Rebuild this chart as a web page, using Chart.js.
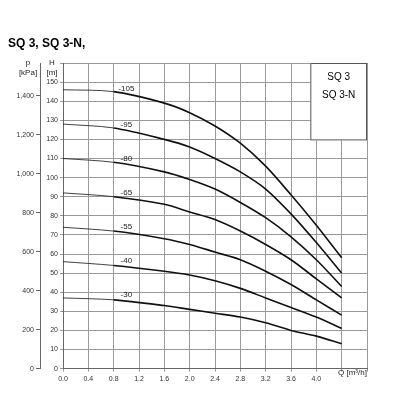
<!DOCTYPE html><html><head><script src="https://cdn.jsdelivr.net/npm/chart.js"></script>
<style>body{margin:0;background:#fff}#w{width:416px;height:416px}</style></head><body><div id="w"><canvas id="c"></canvas></div>
<script>
const flows=[0,0.8,1.6,2.0,2.4,2.8,3.2,3.6,4.0,4.4];
const curveLabels=['-105','-95','-80','-65','-55','-40','-30'];
const h105=[146,145,139,134,127,118,106,91,75,58];
const h95=[128,126,120,116,110,103,94,81,66,50];
const h80=[110,108,103,99,94,87,79,69,57,43];
const h65=[92,90,86,82,78,72,65,57,47,37];
const h55=[74,72,68,65,61,57,51,44,36,28];
const h40=[56,54,51,49,46,42,37,32,27,21];
const h30=[37,36,33,31,29,27,24,20,17,13];
const series=[h105,h95,h80,h65,h55,h40,h30];
const labelQ=1.0;
const ds=series.map(s=>({data:flows.map((q,i)=>({x:q,y:s[i]})),borderColor:'#111',pointRadius:0,fill:false,tension:0.3,
 segment:{borderWidth:c=>c.p0.parsed.x<0.8?0.8:1.6}}));
const deco={id:'deco',afterDraw(ch){const c=ch.ctx,x=ch.scales.x,y=ch.scales.y,a=ch.chartArea;c.save();
 c.fillStyle='#000';c.font='bold 12px Arial, Liberation Sans';c.textBaseline='middle';c.fillText('SQ 3, SQ 3-N,',8,44);
 c.font='8px Arial, Liberation Sans';c.fillStyle='#222';c.textAlign='center';
 series.forEach((s,i)=>{let v=s[1]+(s[2]-s[1])*(labelQ-0.8)/0.8;c.fillText(curveLabels[i],x.getPixelForValue(labelQ),y.getPixelForValue(v)-6);});
 c.fillText('H',52,63);c.fillText('[m]',52,73);c.fillText('p',28,63);c.fillText('[kPa]',28,73);
 c.textAlign='left';c.font='8px Arial, Liberation Sans';c.fillText('Q [m³/h]',338,373);
 const bx=x.getPixelForValue(4.0)-6,by=a.top,bw=a.right-bx,bh=y.getPixelForValue(120)-a.top+1;
 c.fillStyle='#fff';c.fillRect(bx,by,bw,bh);c.strokeStyle='#555';c.lineWidth=1;c.strokeRect(bx+0.5,by+0.5,bw-1,bh-1);
 c.fillStyle='#000';c.font='10px Arial, Liberation Sans';c.textAlign='center';c.fillText('SQ 3',bx+bw/2,by+14);c.fillText('SQ 3-N',bx+bw/2,by+32);
 c.restore();}};
new Chart(document.getElementById('c'),{type:'line',data:{datasets:ds},plugins:[deco],
options:{responsive:true,maintainAspectRatio:false,animation:false,layout:{padding:{top:63,right:49,bottom:30,left:0}},
plugins:{legend:{display:false},tooltip:{enabled:false}},
scales:{
 x:{type:'linear',min:0,max:4.8,ticks:{stepSize:0.4,autoSkip:false,font:{size:7},color:'#333',maxRotation:0,callback:v=>v>4.01?'':v.toFixed(1)},grid:{color:'#999',tickLength:3},border:{color:'#666'}},
 y:{position:'left',weight:0,min:0,max:160,afterFit:s=>{s.width=23},ticks:{stepSize:10,autoSkip:false,font:{size:7},color:'#333',padding:2,callback:v=>v>=160?'':v},grid:{color:'#999',tickLength:3},border:{color:'#666'}},
 y2:{position:'left',weight:1,min:0,max:1569.06,afterFit:s=>{s.width=40},afterBuildTicks:s=>{s.ticks=[0,200,400,600,800,1000,1200,1400].map(v=>({value:v}))},ticks:{autoSkip:false,font:{size:7},color:'#333',padding:2},grid:{drawOnChartArea:false,tickLength:4,color:'#666'},border:{color:'#666'}}
}}});
</script></body></html>
